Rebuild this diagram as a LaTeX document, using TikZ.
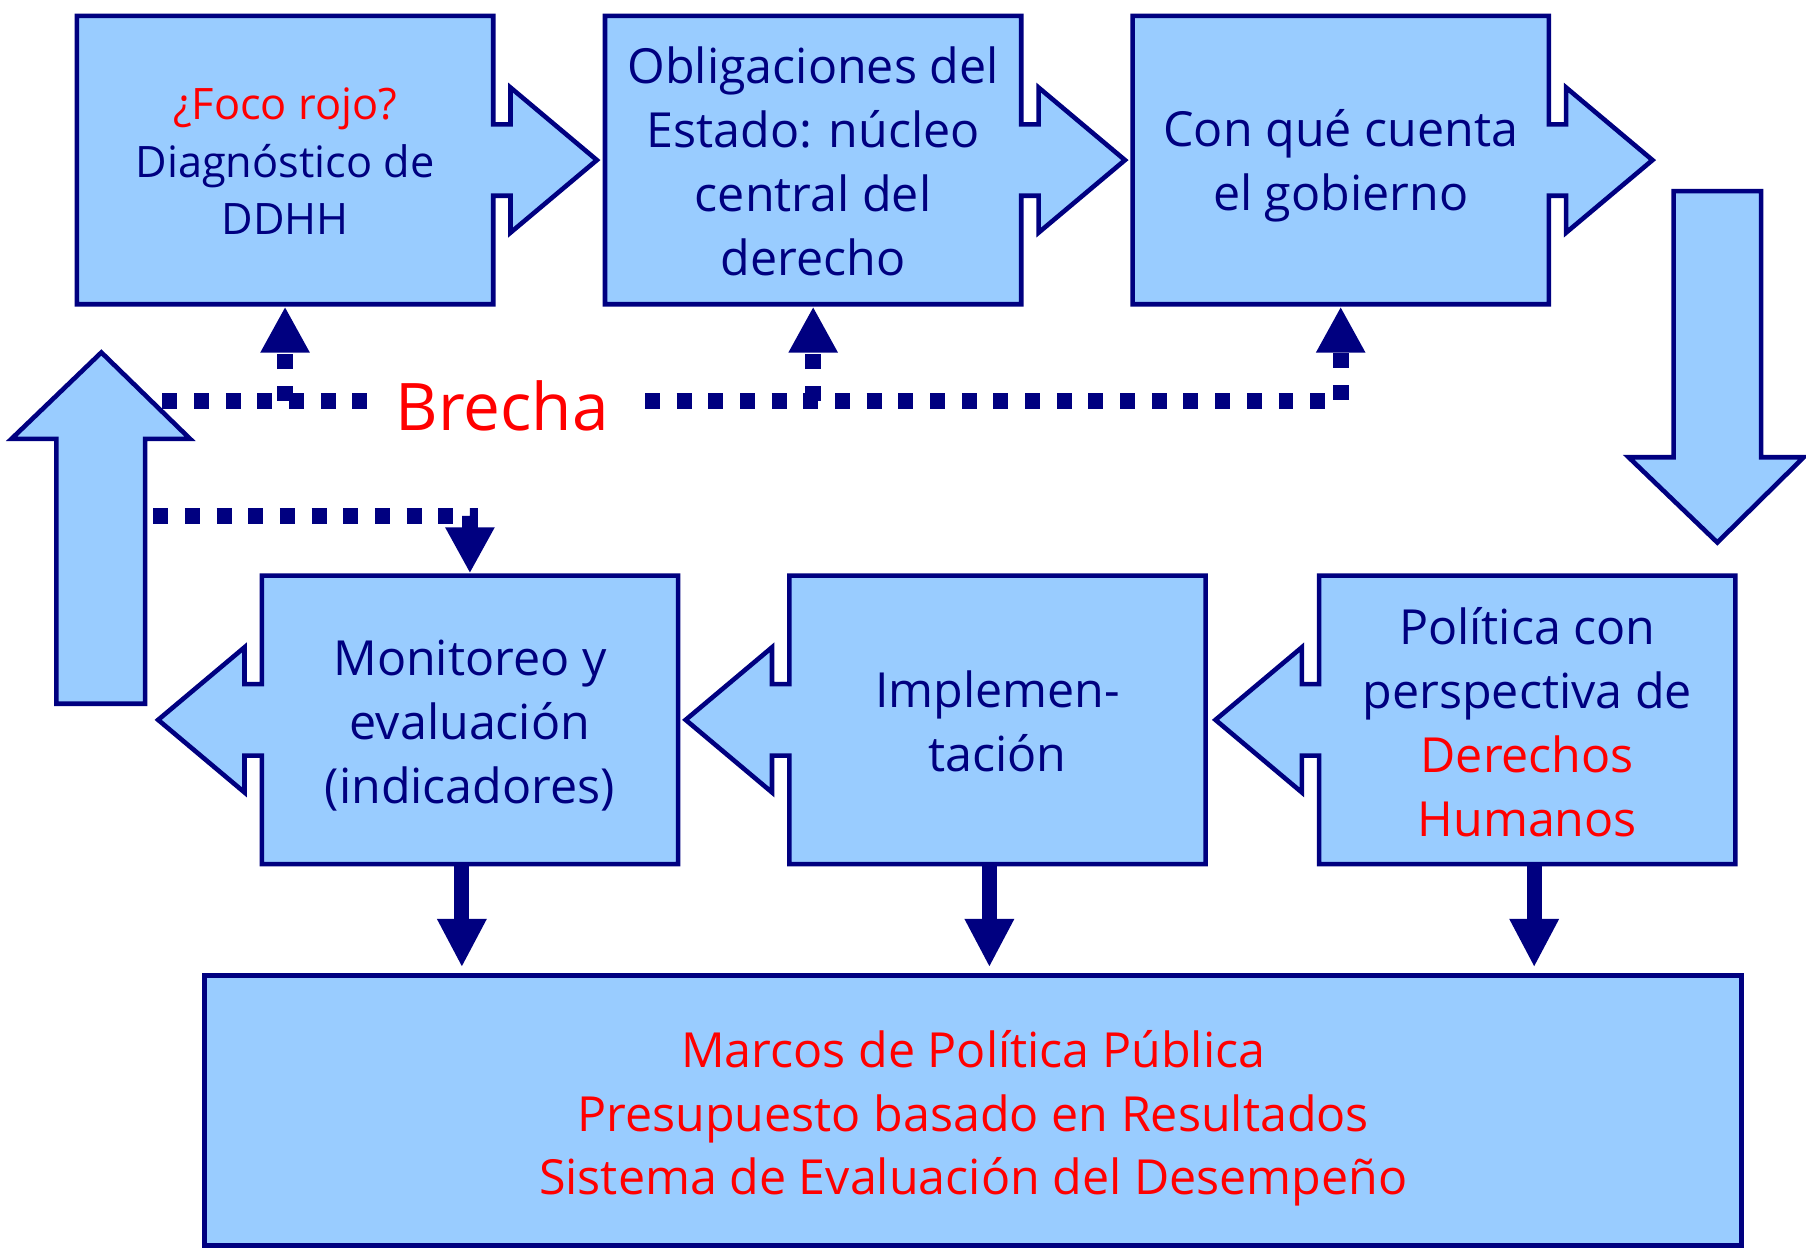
\documentclass[tikz,border=0pt]{standalone}
\usepackage{fontspec}
\setmainfont{Open Sans}
\usetikzlibrary{arrows.meta,calc,backgrounds}
\definecolor{navyc}{RGB}{0,0,128}
\definecolor{fillc}{RGB}{153,204,255}
\definecolor{redc}{RGB}{255,0,0}
\pgfdeclarelayer{back}
\pgfsetlayers{back,background,main}
\begin{document}
\begin{tikzpicture}[x=1pt,y=-1pt,
  boxnode/.style={inner sep=0pt, minimum width=361pt, minimum height=250pt},
  boxtext/.style={inner sep=0pt, align=center, text=navyc, font=\fontsize{42}{55.5}\selectfont},
  shapefill/.style={fill=fillc, draw=navyc, line width=4pt, line join=miter},
  dotline/.style={draw=navyc, line width=14pt, dash pattern=on 13pt off 14.5pt},
  dottip/.style={-{Triangle[width=40pt,length=40pt]}, shorten >=2pt},
  thickarrow/.style={draw=navyc, line width=13pt, -{Triangle[width=40pt,length=42pt]}, shorten >=7pt},
]
\begin{pgfonlayer}{back}
  \fill[white] (0,0) rectangle (1568,1083);
\end{pgfonlayer}
\useasboundingbox (0,0) rectangle (1568,1083);

% boxes
\node[boxnode] (b1) at (247.5,139) {};
\node[boxnode] (b2) at (706,139) {};
\node[boxnode] (b3) at (1164,139) {};
\node[boxnode] (b4) at (1326,625) {};
\node[boxnode] (b5) at (866,625) {};
\node[boxnode] (b6) at (408,625) {};
\node[boxnode, minimum width=1334pt, minimum height=234pt] (bot) at (845,964) {};

% texts
\node[boxtext, font=\fontsize{37.6}{50}\selectfont] (t1) at ($(b1)+(0,1)$) {{\color{redc}¿Foco rojo?}\\Diagnóstico de\\DDHH};
\node[boxtext] (t2) at ($(b2)+(0,1)$) {Obligaciones del\\Estado: núcleo\\central del\\derecho};
\node[boxtext] (t3) at ($(b3)+(0,5)$) {Con qué cuenta\\el gobierno};
\node[boxtext] (t4) at ($(b4)+(0,2)$) {Política con\\perspectiva de\\\textcolor{redc}{Derechos}\\\textcolor{redc}{Humanos}};
\node[boxtext] (t5) at ($(b5)+(0,1)$) {Implemen-\\tación};
\node[boxtext] (t6) at ($(b6)+(0,5)$) {Monitoreo y\\evaluación\\(indicadores)};
\node[boxtext, text=redc, font=\fontsize{42}{55}\selectfont] (t7) at ($(bot)+(0,7)$) {Marcos de Política Pública\\Presupuesto basado en Resultados\\Sistema de Evaluación del Desempeño};
\node[inner sep=0pt, text=redc, font=\fontsize{57}{60}\selectfont] (brecha) at (436,352) {Brecha};

\begin{pgfonlayer}{background}
  % top row with right arrows
  \foreach \b in {b1,b2,b3}{
    \path[shapefill] (\b.north west) -- (\b.north east) -- ($(\b.east)+(0,-31)$) -- ++(15,0) -- ++(0,-32)
      -- ($(\b.east)+(90,0)$) -- ($(\b.east)+(15,63)$) -- ++(0,-32) -- ++(-15,0)
      -- (\b.south east) -- (\b.south west) -- cycle;
  }
  % bottom row with left arrows
  \foreach \b in {b4,b5,b6}{
    \path[shapefill] (\b.north east) -- (\b.north west) -- ($(\b.west)+(0,-31)$) -- ++(-15,0) -- ++(0,-32)
      -- ($(\b.west)+(-90,0)$) -- ($(\b.west)+(-15,63)$) -- ++(0,-32) -- ++(15,0)
      -- (\b.south west) -- (\b.south east) -- cycle;
  }
  \path[shapefill] (bot.north west) rectangle (bot.south east);
  % big block arrows
  \path[shapefill] (1453,166) -- (1529,166) -- (1529,397) -- (1566,397) -- (1491,471) -- (1414,397) -- (1453,397) -- cycle;
  \path[shapefill] (49,611) -- (126,611) -- (126,381) -- (165,381) -- (88,306) -- (10,381) -- (49,381) -- cycle;
\end{pgfonlayer}

% thick arrows to bottom box
\draw[thickarrow] ($(b6.south)+(-7,0)$) -- ($(b6.south |- bot.north)+(-7,0)$);
\draw[thickarrow] ($(b5.south)+(-7,0)$) -- ($(b5.south |- bot.north)+(-7,0)$);
\draw[thickarrow] ($(b4.south)+(6,0)$) -- ($(b4.south |- bot.north)+(6,0)$);

% dotted connectors
\coordinate (ls) at (141,348);
\coordinate (le) at (323,348);
\coordinate (rs) at (560,348);
\coordinate (ms) at (133,448);
\draw[dotline] (ls) -- (le);
\draw[dotline, dottip] (b1.south |- ls) -- (b1.south);
\draw[dotline, dottip] (rs) -- (b3.south |- rs) -- (b3.south);
\draw[dotline, dottip] (b2.south |- rs) -- (b2.south);
\draw[dotline, dottip] (ms) -- (b6.north |- ms) -- (b6.north);
\end{tikzpicture}
\end{document}
